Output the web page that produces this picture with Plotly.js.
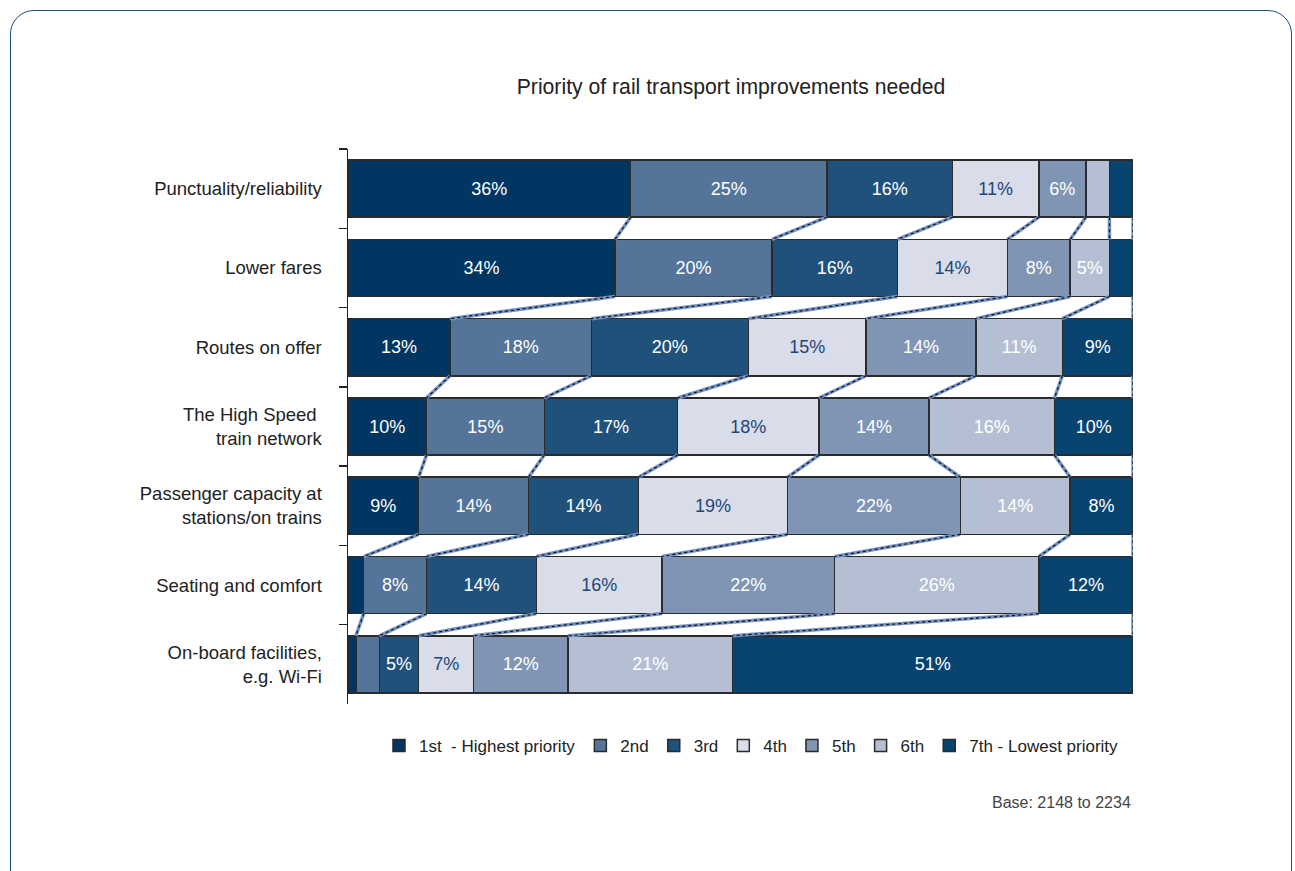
<!DOCTYPE html>
<html>
<head>
<meta charset="utf-8">
<script src="https://cdn.plot.ly/plotly-3.0.1.min.js"></script>
<style>
  html, body { margin: 0; padding: 0; background: #fff; overflow: hidden; }
  #chart { width: 1295px; height: 871px; position: absolute; left: 0; top: 0; }
  #frame { position: absolute; left: 10px; top: 10px; width: 1280px; height: 885px;
           border: 1.5px solid #1d4f80; border-radius: 24px; pointer-events: none; }
</style>
</head>
<body>
<div id="chart"></div>
<div id="frame"></div>
<script>
// ---- data ----
const categories = [
  "Punctuality/reliability",
  "Lower fares",
  "Routes on offer",
  "The High Speed <br>train network",
  "Passenger capacity at<br>stations/on trains",
  "Seating and comfort",
  "On-board facilities,<br>e.g. Wi-Fi"
];
const seriesNames = ["1st \u00a0- Highest priority", "2nd", "3rd", "4th", "5th", "6th", "7th - Lowest priority"];
const first   = [36, 34, 13, 10,  9,  2,  1];
const second  = [25, 20, 18, 15, 14,  8,  3];
const third   = [16, 16, 20, 17, 14, 14,  5];
const fourth  = [11, 14, 15, 18, 19, 16,  7];
const fifth   = [ 6,  8, 14, 14, 22, 22, 12];
const sixth   = [ 3,  5, 11, 16, 14, 26, 21];
const seventh = [ 3,  3,  9, 10,  8, 12, 51];

const series = [first, second, third, fourth, fifth, sixth, seventh];
const colors = ["#023662", "#557499", "#1f517b", "#d8dde9", "#8095b4", "#b4bfd3", "#08446f"];
const textColors = ["#ffffff", "#ffffff", "#ffffff", "#1f4677", "#ffffff", "#ffffff", "#ffffff"];
const FONT = "Liberation Sans, Arial, Helvetica, sans-serif";
const barHalf = 0.36;

const traces = series.map((vals, j) => ({
  type: "bar",
  orientation: "h",
  name: seriesNames[j],
  y: categories,
  x: vals,
  text: vals.map(v => v >= 5 ? v + "%" : ""),
  textposition: "inside",
  insidetextanchor: "middle",
  textangle: 0,
  textfont: { family: FONT, size: 18, color: textColors[j] },
  marker: { color: colors[j], line: { color: "#2b2b2b", width: 1.5 } },
  hoverinfo: "skip"
}));

// connectors between consecutive bars at each cumulative boundary
const cum = categories.map((_, i) => {
  let s = 0;
  return series.map(vals => (s += vals[i]));
});
const shapes = [];
for (let i = 0; i < categories.length - 1; i++) {
  for (let j = 0; j < series.length; j++) {
    const seg = {
      type: "line", xref: "x", yref: "y",
      x0: cum[i][j], y0: i + barHalf, x1: cum[i + 1][j], y1: i + 1 - barHalf
    };
    shapes.push(Object.assign({}, seg, { line: { color: "#7593c4", width: 3.5 } }));
    shapes.push(Object.assign({}, seg, { line: { color: "#111111", width: 1.2, dash: "dot" } }));
  }
}

const layout = {
  width: 1295, height: 871,
  paper_bgcolor: "rgba(0,0,0,0)",
  plot_bgcolor: "rgba(0,0,0,0)",
  margin: { l: 348, r: 162, t: 149, b: 167, pad: 0 },
  barmode: "stack",
  bargap: 0.28,
  font: { family: FONT, size: 18, color: "#222" },
  title: {
    text: "Priority of rail transport improvements needed",
    font: { family: FONT, size: 21.2, color: "#222" },
    xref: "container", x: 0.5645, xanchor: "center",
    yref: "container", y: 0.901, yanchor: "middle"
  },
  xaxis: { range: [0, 100], visible: false, fixedrange: true },
  yaxis: {
    type: "category",
    autorange: "reversed",
    showline: true, linecolor: "#222", linewidth: 1.5,
    ticks: "outside", ticklen: 8, tickcolor: "#222", tickwidth: 1.5,
    tickson: "boundaries",
    ticklabelstandoff: 21,
    tickfont: { family: FONT, size: 18.5, color: "#222" },
    showgrid: false, zeroline: false, fixedrange: true
  },
  legend: {
    orientation: "h", traceorder: "normal",
    x: 0.514, xanchor: "center", y: -0.0757, yanchor: "middle",
    font: { family: FONT, size: 17, color: "#222" },
    itemwidth: 30, itemclick: false
  },
  shapes: shapes,
  annotations: [{
    text: "Base: 2148 to 2234", xref: "paper", yref: "paper",
    x: 1, xanchor: "right", y: -0.1766, yanchor: "middle",
    showarrow: false, font: { family: FONT, size: 16, color: "#444" }
  }]
};

Plotly.newPlot("chart", traces, layout, { displayModeBar: false, staticPlot: true });
</script>
</body>
</html>
